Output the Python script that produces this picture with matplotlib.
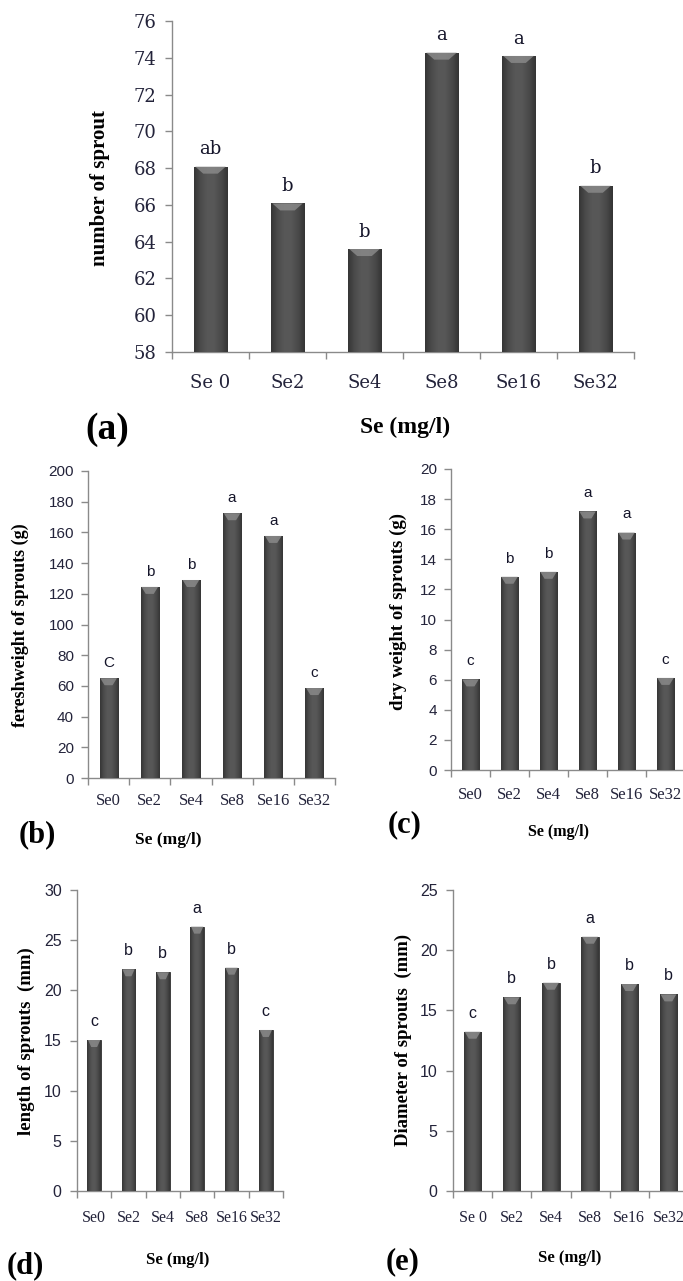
import numpy as np
import matplotlib
matplotlib.use("Agg")
import matplotlib.pyplot as plt
from matplotlib.colors import LinearSegmentedColormap
from matplotlib.patches import Polygon

# ---------------- data ----------------
cats_a = ["Se 0", "Se2", "Se4", "Se8", "Se16", "Se32"]
cats_bcd = ["Se0", "Se2", "Se4", "Se8", "Se16", "Se32"]
cats_e = ["Se 0", "Se2", "Se4", "Se8", "Se16", "Se32"]

num_sprout = [68.08, 66.08, 63.6, 74.28, 74.1, 67.04]
num_letters = ["ab", "b", "b", "a", "a", "b"]

fresh_weight = [65.0, 124.5, 129.0, 172.5, 157.7, 58.6]
fresh_letters = ["C", "b", "b", "a", "a", "c"]

dry_weight = [6.02, 12.84, 13.17, 17.18, 15.78, 6.12]
dry_letters = ["c", "b", "b", "a", "a", "c"]

length_mm = [15.05, 22.1, 21.8, 26.35, 22.26, 16.05]
length_letters = ["c", "b", "b", "a", "b", "c"]

diam_mm = [13.23, 16.09, 17.3, 21.12, 17.19, 16.33]
diam_letters = ["c", "b", "b", "a", "b", "b"]

W, H = 683, 1281
fig = plt.figure(figsize=(W / 100, H / 100), dpi=100)
fig.patch.set_facecolor("white")

cmap = LinearSegmentedColormap.from_list(
    "bar", ["#363636", "#4c4c4c", "#585858", "#575757", "#4a4a4a", "#353535"])
grad = np.linspace(0, 1, 64).reshape(1, -1)

SPINE = "#8a8a8a"
TXT = "#23233a"


def fx(px):
    return px / W


def fy(py):
    return 1 - py / H


def panel(rect, values, cats, letters, ylim, yticks, width,
          tick_font, tick_size, xt_font, xt_size, let_font, let_size,
          let_off, xt_pad, ytl_pad):
    ax = fig.add_axes(rect)
    x = np.arange(len(values))
    bars = ax.bar(x, values, width=width, color="#4a4a4a",
                  edgecolor="#2f2f2f", linewidth=0.6, zorder=2)
    ax_h_px = rect[3] * H
    bevel = 7 * (ylim[1] - ylim[0]) / ax_h_px
    for p in bars:
        x0, w, h = p.get_x(), p.get_width(), p.get_height()
        im = ax.imshow(grad, extent=[x0, x0 + w, ylim[0], h], aspect="auto",
                       cmap=cmap, zorder=3, interpolation="bilinear")
        im.set_clip_path(p)
        ax.add_patch(Polygon([(x0 + 0.04 * w, h), (x0 + 0.96 * w, h),
                              (x0 + 0.72 * w, h - bevel),
                              (x0 + 0.28 * w, h - bevel)],
                             closed=True, facecolor="#8c8c8c",
                             edgecolor="none", alpha=0.8, zorder=4))
    ax.set_xlim(-0.5, len(values) - 0.5)
    ax.set_ylim(*ylim)
    ax.set_yticks(yticks)
    ax.set_yticklabels([str(t) for t in yticks], family=tick_font,
                       fontsize=tick_size, color=TXT)
    ax.set_xticks(x)
    ax.set_xticklabels(cats, family=xt_font, fontsize=xt_size, color=TXT)
    ax.set_xticks(np.arange(-0.5, len(values), 1.0), minor=True)
    ax.tick_params(axis="x", which="major", length=0, pad=xt_pad)
    ax.tick_params(axis="x", which="minor", length=5, width=1, color=SPINE,
                   direction="out")
    ax.tick_params(axis="y", length=5, width=1, color=SPINE, pad=ytl_pad)
    for s in ["top", "right"]:
        ax.spines[s].set_visible(False)
    for s in ["left", "bottom"]:
        ax.spines[s].set_color(SPINE)
        ax.spines[s].set_linewidth(1.0)
    for xi, v, l in zip(x, values, letters):
        ax.annotate(l, (xi, v), xytext=(0, let_off), textcoords="offset points",
                    ha="center", va="bottom", family=let_font,
                    fontsize=let_size, color="#15152a")
    ax.set_facecolor("none")
    return ax


SERIF = ["DejaVu Serif"]
TIMES = ["Liberation Serif", "DejaVu Serif"]
SANS = ["Liberation Sans", "DejaVu Sans"]
NARROW = ["Liberation Sans Narrow", "Liberation Sans", "DejaVu Sans"]

# (a)
panel([fx(172), fy(352), fx(634) - fx(172), fy(21) - fy(352)],
      num_sprout, cats_a, num_letters, (58, 76), list(range(58, 77, 2)), 0.43,
      SERIF, 13, SERIF, 13, SERIF, 13, 6, 16, 6)
# (b)
panel([fx(88), fy(778), fx(335) - fx(88), fy(471) - fy(778)],
      fresh_weight, cats_bcd, fresh_letters, (0, 200), list(range(0, 201, 20)),
      0.44, SANS, 11, TIMES, 12, SANS, 11, 6, 11, 5)
# (c)
panel([fx(451), fy(770), fx(685) - fx(451), fy(469) - fy(770)],
      dry_weight, cats_bcd, dry_letters, (0, 20), list(range(0, 21, 2)),
      0.46, SANS, 11, TIMES, 12, SANS, 11, 8, 12, 5)
# (d)
panel([fx(77), fy(1191), fx(283) - fx(77), fy(890) - fy(1191)],
      length_mm, cats_bcd, length_letters, (0, 30), list(range(0, 31, 5)),
      0.39, NARROW, 11.5, TIMES, 11.5, NARROW, 11.5, 8, 14, 6)
# (e)
panel([fx(453), fy(1191), fx(688) - fx(453), fy(890) - fy(1191)],
      diam_mm, cats_e, diam_letters, (0, 25), list(range(0, 26, 5)),
      0.44, NARROW, 11.5, TIMES, 11.5, NARROW, 11.5, 8, 14, 6)

# y labels
ylabs = [
    ("number of sprout", 100, 188, 15),
    ("fereshweight of sprouts (g)", 20, 625, 13),
    ("dry weight of sprouts (g)", 398, 612, 13.5),
    ("length of sprouts  (mm)", 26, 1041, 13.5),
    ("Diameter of sprouts  (mm)", 403, 1040, 13.5),
]
for t, px, py, fs in ylabs:
    fig.text(fx(px), fy(py), t, rotation=90, ha="center", va="center",
             family=TIMES, fontweight="bold", fontsize=fs, color="black")

# x labels
xlabs = [(405, 427, 17), (168, 840, 12.5), (558, 832, 11.5), (178, 1260, 12),
         (570, 1258, 12)]
for px, py, fs in xlabs:
    fig.text(fx(px), fy(py), "Se (mg/l)", ha="center", va="center",
             family=TIMES, fontweight="bold", fontsize=fs, color="black")

# panel letters
plabs = [("(a)", 107, 430, 27), ("(b)", 37, 835, 22), ("(c)", 405, 825, 22),
         ("(d)", 25, 1266, 22), ("(e)", 403, 1262, 22)]
for t, px, py, fs in plabs:
    fig.text(fx(px), fy(py), t, ha="center", va="center",
             family=TIMES, fontweight="bold", fontsize=fs, color="black")

fig.savefig("out.png", dpi=100, facecolor="white")
